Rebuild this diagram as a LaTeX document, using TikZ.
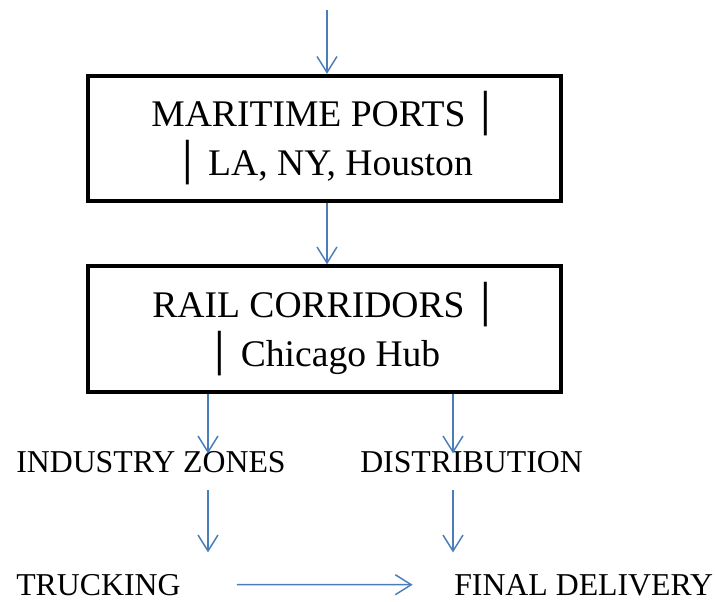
\documentclass[tikz,border=0pt]{standalone}
\usepackage{fontspec}
\setmainfont{Liberation Serif}
\newfontfamily\barfont{DejaVu Sans}
\usetikzlibrary{arrows.meta}
\definecolor{flowblue}{HTML}{4A7EBB}
\newcommand{\vbar}{{\barfont │}}
\tikzset{
    hubbox/.style={draw, line width=3pt, minimum width=354.75pt, minimum height=94pt,
        align=center, font=\fontsize{28.2}{36.75}\selectfont, inner sep=0pt},
    stage/.style={inner sep=0pt, anchor=base west, font=\fontsize{23.85}{28}\selectfont},
    flow/.style={draw=flowblue, line width=1.1pt,
        -{Straight Barb[length=12pt,width=15pt,line width=1.1pt]}}
}
\begin{document}
\begin{tikzpicture}[x=0.75pt,y=-0.75pt]
    \useasboundingbox (0,0) rectangle (715,601);
    %% Hub boxes
    \node[hubbox] (ports) at (324.5,138.5) {MARITIME PORTS \vbar\\ \vbar\ LA, NY, Houston};
    \node[hubbox] (rail) at (324.5,329) {RAIL CORRIDORS \vbar\\ \vbar\ Chicago Hub};
    %% Stages below the rail hub
    \node[stage] (industry) at (16,472) {INDUSTRY ZONES};
    \node[stage] (distrib) at (360,472) {DISTRIBUTION};
    \node[stage] (trucking) at (16,595) {TRUCKING};
    \node[stage] (final) at (454,595) {FINAL DELIVERY};
    %% Arrow columns
    \coordinate (entry) at (327,10);
    \coordinate (leftcol) at (208,0);
    \coordinate (rightcol) at (453,0);
    %% Flows
    \draw[flow] (entry) -- (ports.north -| entry);
    \draw[flow] (ports.south -| entry) -- (rail.north -| entry);
    \draw[flow] (rail.south -| leftcol) -- ([yshift=-2pt]industry.north -| leftcol);
    \draw[flow] (rail.south -| rightcol) -- ([yshift=-2pt]distrib.north -| rightcol);
    \draw[flow, shorten <=13pt, shorten >=16pt] (industry.south -| leftcol) -- (trucking.north -| leftcol);
    \draw[flow, shorten <=13pt, shorten >=16pt] (distrib.south -| rightcol) -- (final.north -| rightcol);
    \draw[flow, shorten <=42pt, shorten >=31pt] (trucking.east) -- (final.west);
\end{tikzpicture}
\end{document}
